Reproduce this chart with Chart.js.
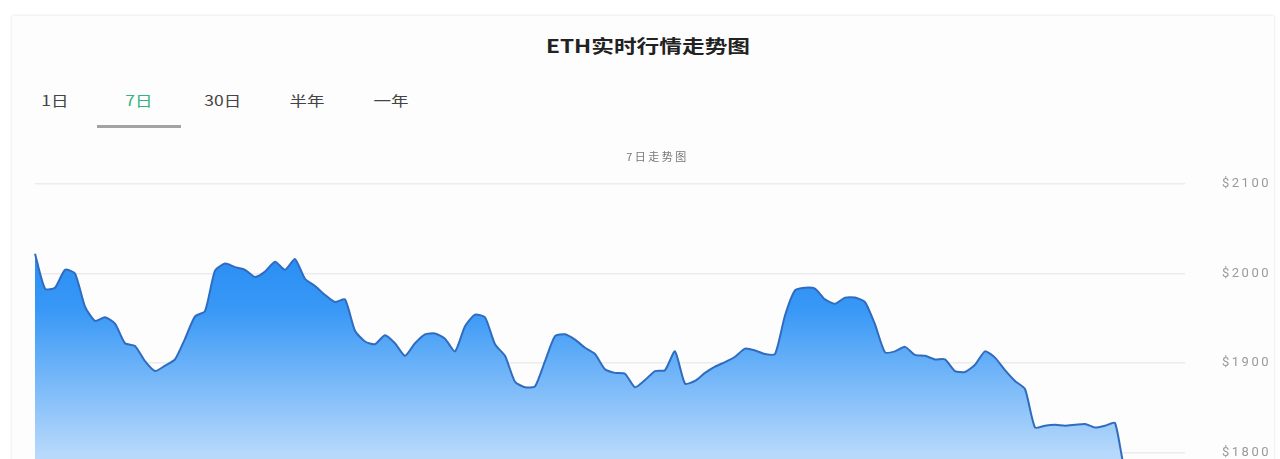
<!DOCTYPE html>
<html lang="zh-CN">
<head>
<meta charset="utf-8">
<title>ETH实时行情走势图</title>
<script src="https://cdn.jsdelivr.net/npm/chart.js@4.4.1/dist/chart.umd.min.js"></script>
<style>
  html, body { margin: 0; padding: 0; background: #fff; width: 1280px; height: 459px; overflow: hidden; font-family: "Noto Sans CJK SC", "Noto Sans", sans-serif; }
  .card { position: absolute; left: 12px; top: 16px; width: 1262px; height: 470px; background: #fdfdfd; box-shadow: 0 0 3px rgba(0,0,0,.13); }
  .title { position: absolute; left: 498px; top: 34px; width: 300px; text-align: center; font-size: 18px; font-weight: 700; line-height: 22px; color: #222; }
  .title span, .tab span { display: inline-block; }
  .title span { transform: scaleX(1.26); }
  .tab { position: absolute; top: 90px; width: 84px; text-align: center; font-size: 14px; line-height: 20px; color: #444; }
  .tab span { transform: scaleX(1.25); }
  .tab.active { color: #35b37e; }
  .tab-line { position: absolute; left: 97px; top: 125px; width: 84px; height: 3px; background: #a3a3a3; }
  .chart-box { position: absolute; left: 12px; top: 139px; width: 1268px; height: 448px; }
</style>
</head>
<body>
<div class="card"></div>
<div class="title"><span>ETH实时行情走势图</span></div>
<div id="tabs"></div>
<div class="tab-line"></div>
<div class="chart-box"><canvas id="chart-eth"></canvas></div>

<script>
const tabNames = ['1日', '7日', '30日', '半年', '一年'];
const activeTab = 1;

const yTicks = [1700, 1800, 1900, 2000, 2100];

// 7日价格 (USD)
const prices = [
  2022, 1983, 1984, 2004, 2000, 1963, 1947, 1951, 1944, 1922,
  1919, 1902, 1891, 1897, 1904, 1927, 1952, 1958, 2003, 2011,
  2007, 2004, 1996, 2002, 2013, 2004, 2016, 1994, 1986, 1976,
  1968, 1971, 1936, 1924, 1921, 1931, 1922, 1908, 1922, 1932,
  1933, 1927, 1913, 1941, 1954, 1951, 1921, 1908, 1879, 1873,
  1874, 1902, 1930, 1932, 1926, 1917, 1910, 1893, 1889, 1888,
  1873, 1881, 1891, 1892, 1913, 1877, 1880, 1889, 1896, 1901,
  1907, 1916, 1914, 1910, 1910, 1953, 1981, 1984, 1983, 1971,
  1966, 1973, 1973, 1968, 1943, 1912, 1913, 1918, 1909, 1908,
  1904, 1904, 1891, 1890, 1898, 1913, 1906, 1892, 1880, 1871,
  1828, 1830, 1831, 1830, 1831, 1832, 1828, 1830, 1833, 1780,
  1772, 1765, 1770, 1762, 1758, 1764
];
const labels = prices.map((_, i) => `T${i}`);

document.getElementById('tabs').innerHTML = tabNames.map((t, i) =>
  `<div class="tab${i === activeTab ? ' active' : ''}" style="left:${13 + i * 84}px"><span>${t}</span></div>`
).join('');

const spacing = {
  id: 'spacing',
  beforeDraw(chart) { chart.ctx.letterSpacing = '2.5px'; }
};

function areaGradient(context) {
  const { ctx, chartArea } = context.chart;
  if (!chartArea) return 'rgba(30,136,242,0.8)';
  const g = ctx.createLinearGradient(0, chartArea.top, 0, chartArea.bottom);
  g.addColorStop(0, 'rgb(22,128,240)');
  g.addColorStop(0.35, 'rgb(56,152,246)');
  g.addColorStop(0.75, 'rgb(182,216,251)');
  g.addColorStop(1, 'rgb(226,239,254)');
  return g;
}

new Chart(document.getElementById('chart-eth').getContext('2d'), {
  type: 'line',
  data: {
    labels: labels,
    datasets: [{
      data: prices,
      borderColor: '#2f6cbf',
      borderWidth: 2,
      pointRadius: 0,
      tension: 0.2,
      fill: 'start',
      backgroundColor: areaGradient,
    }],
  },
  options: {
    responsive: true,
    maintainAspectRatio: false,
    animation: false,
    layout: { padding: { left: 23, right: 0, top: 0, bottom: 0 } },
    plugins: {
      legend: { display: false },
      tooltip: { enabled: false },
      title: {
        display: true,
        text: '7日走势图',
        color: '#777',
        font: { size: 11, family: '"Noto Sans CJK SC", sans-serif', weight: 'normal' },
        padding: { top: 1, bottom: 20.4 },
      },
    },
    scales: {
      x: { display: false },
      y: {
        position: 'right',
        min: yTicks[0],
        max: yTicks[yTicks.length - 1],
        afterFit(scale) { scale.width = 95; },
        afterBuildTicks(scale) { scale.ticks = yTicks.map(v => ({ value: v })); },
        grid: { color: '#ececec', lineWidth: 1.5, drawTicks: false },
        border: { display: false },
        ticks: {
          padding: 37,
          color: '#9a9a9a',
          font: { size: 13, family: 'Roboto, sans-serif' },
          callback: v => '$' + v,
        },
      },
    },
  },
  plugins: [spacing],
});
</script>
</body>
</html>
